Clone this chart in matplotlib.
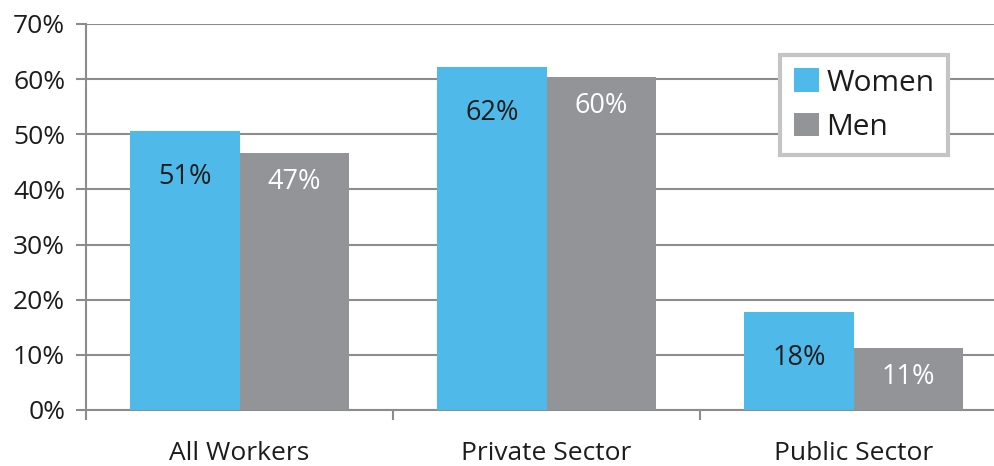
import numpy as np
import matplotlib.pyplot as plt

# Data
categories = ["All Workers", "Private Sector", "Public Sector"]
women = [50.6, 62.2, 17.8]
men = [46.6, 60.4, 11.2]
yticks = [0, 10, 20, 30, 40, 50, 60, 70]

women_color = "#4FBAE9"
men_color = "#929497"
grid_color = "#8C8C8C"
text_color = "#1c1c1c"

plt.rcParams['font.family'] = ['Open Sans', 'DejaVu Sans']

fig = plt.figure(figsize=(9.95, 4.66), dpi=100)
ax = fig.add_axes([0.0864, 0.1202, 0.9136, 0.8283])

x = np.arange(len(categories))
w = 0.357
b1 = ax.bar(x - w / 2, women, w, color=women_color, label="Women", zorder=3)
b2 = ax.bar(x + w / 2, men, w, color=men_color, label="Men", zorder=3)

# value labels inside bars
for rect, v in zip(b1, women):
    ax.annotate(f"{v:.0f}%", (rect.get_x() + rect.get_width() / 2, v),
                xytext=(0, -46), textcoords="offset pixels",
                ha="center", va="center", fontsize=19.5, color=text_color, zorder=4)
for rect, v in zip(b2, men):
    ax.annotate(f"{v:.0f}%", (rect.get_x() + rect.get_width() / 2, v),
                xytext=(0, -29), textcoords="offset pixels",
                ha="center", va="center", fontsize=19.5, color="white", zorder=4)

ax.set_ylim(0, 70)
ax.set_xlim(-0.5, 2.46)
ax.set_yticks(yticks)
ax.set_yticklabels([f"{t}%" for t in yticks], fontsize=19, color=text_color)
ax.yaxis.grid(True, color=grid_color, linewidth=1.5, zorder=0)
ax.tick_params(axis="y", length=7, width=1.5, color=grid_color, pad=8)

# category labels centred, ticks at boundaries
ax.set_xticks([-0.5, 0.5, 1.5])
ax.set_xticklabels([])
ax.tick_params(axis="x", length=7, width=1.5, color=grid_color)
ax.set_xticks(x, minor=True)
ax.set_xticklabels(categories, minor=True, fontsize=19, color=text_color)
ax.tick_params(axis="x", which="minor", length=0, pad=22)

for s in ["top", "right"]:
    ax.spines[s].set_visible(False)
for s in ["left", "bottom"]:
    ax.spines[s].set_color(grid_color)
    ax.spines[s].set_linewidth(1.5)

leg = ax.legend(loc="upper left", bbox_to_anchor=(0.784, 0.882),
                bbox_transform=fig.transFigure, borderaxespad=0,
                fontsize=21.5, fancybox=False, framealpha=1,
                handlelength=0.85, handleheight=0.85, handletextpad=0.25,
                labelspacing=0.5, borderpad=0.45, labelcolor=text_color)
leg.get_frame().set_edgecolor("#C4C4C4")
leg.get_frame().set_linewidth(3)
leg.set_zorder(5)

fig.savefig("out.png", dpi=100)
